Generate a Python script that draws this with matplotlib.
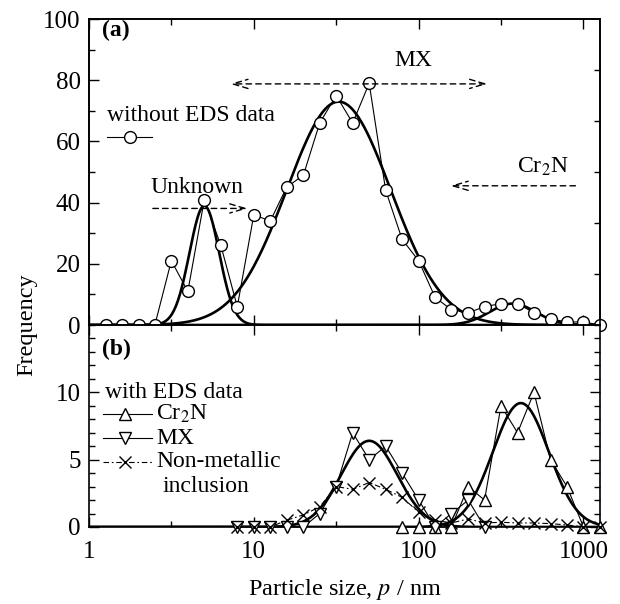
import numpy as np
import matplotlib.pyplot as plt
from matplotlib.ticker import FixedLocator, MultipleLocator, NullFormatter

plt.rcParams['font.family'] = 'Liberation Serif'
plt.rcParams['mathtext.fontset'] = 'stix'

# (a) all particles, without EDS data
size_a = [1.26, 1.58, 2.0, 2.51, 3.16, 3.98, 5.01, 6.31, 7.94, 10, 12.6, 15.8,
          20.0, 25.1, 31.6, 39.8, 50.1, 63.1, 79.4, 100, 126, 158, 200, 251,
          316, 398, 501, 631, 794, 1000, 1259]
count_a = [0, 0, 0, 0, 21, 11, 41, 26, 6, 36, 34, 45,
           49, 66, 75, 66, 79, 44, 28, 21, 9, 5, 4, 6,
           7, 7, 4, 2, 1, 1, 0]

# (b) with EDS data
size_cr2n = [79.4, 100, 126, 158, 200, 251, 316, 398, 501, 631, 794, 1000, 1259]
count_cr2n = [0, 0, 0, 0, 3, 2, 9, 7, 10, 5, 3, 0, 0]

size_mx = [7.94, 10, 12.6, 15.8, 20.0, 25.1, 31.6, 39.8, 50.1, 63.1, 79.4, 100,
           126, 158, 200, 251]
count_mx = [0, 0, 0, 0, 0, 1, 3, 7, 5, 6, 4, 2, 0, 1, 2, 0]

size_nm = [7.94, 10, 12.6, 15.8, 20.0, 25.1, 31.6, 39.8, 50.1, 63.1, 79.4, 100,
           126, 158, 200, 251, 316, 398, 501, 631, 794, 1000, 1259]
count_nm = [0, 0, 0, 0.5, 0.9, 1.5, 3.0, 2.8, 3.3, 2.8, 2.2, 1.1,
            0.5, 0.3, 0.6, 0.3, 0.35, 0.3, 0.3, 0.25, 0.15, 0, 0]

# log-normal fits: (peak, log10 of mode, sigma in log10)
fit_a_unknown = (39, 0.70, 0.09)
fit_a_mx = (73, 1.515, 0.315)
fit_a_cr2n = (7, 2.57, 0.14)
fit_b_mx = (6.4, 1.70, 0.17)
fit_b_cr2n = (9.2, 2.62, 0.17)


def lognorm(p, fit):
    peak, mu, sig = fit
    return peak * np.exp(-0.5 * ((np.log10(p) - mu) / sig) ** 2)


p = np.logspace(0, np.log10(1259), 500)
FS = 17  # text size

fig = plt.figure(figsize=(6.2, 6.04), dpi=100)
ax1 = fig.add_axes([0.1435, 0.4619, 0.8242, 0.5066])
ax2 = fig.add_axes([0.1435, 0.1275, 0.8242, 0.3344], sharex=ax1)

circ = dict(marker='o', ms=8.5, mfc='white', mec='k', mew=1.0)
tri_up = dict(marker='^', ms=9, mfc='white', mec='k', mew=1.0)
tri_dn = dict(marker='v', ms=9, mfc='white', mec='k', mew=1.0)
cross = dict(marker='x', ms=9, mew=1.0)
dashdot = (0, (5, 2.5, 1.5, 2.5))

# ---- panel (a)
for fit in (fit_a_unknown, fit_a_mx, fit_a_cr2n):
    ax1.plot(p, lognorm(p, fit), 'k-', lw=1.9, zorder=2)
ax1.plot(size_a, count_a, 'k-', lw=0.8, clip_on=False, zorder=3, **circ)

arrow_kw = dict(mutation_scale=10, shrinkA=0, shrinkB=0, lw=1.0,
                linestyle=(0, (4, 3)), color='k')
ax1.annotate('', xy=(7.2, 78.8), xytext=(261, 78.8),
             arrowprops=dict(arrowstyle='<->,head_length=1.1,head_width=0.33', **arrow_kw))
ax1.annotate('', xy=(9.15, 38.1), xytext=(2.44, 38.1),
             arrowprops=dict(arrowstyle='->,head_length=1.1,head_width=0.33', **arrow_kw))
ax1.annotate('', xy=(156, 45.5), xytext=(894, 45.5),
             arrowprops=dict(arrowstyle='->,head_length=1.1,head_width=0.33', **arrow_kw))
ax1.text(93, 86.6, 'MX', fontsize=FS, ha='center', va='center')
ax1.text(0.121, 0.448, 'Unknown', fontsize=FS, ha='left', va='center',
         transform=ax1.transAxes)
ax1.text(0.888, 0.516, 'Cr$_2$N', fontsize=FS, ha='center', va='center',
         transform=ax1.transAxes)
ax1.text(0.025, 0.962, '(a)', fontsize=FS, fontweight='bold', ha='left',
         va='center', transform=ax1.transAxes)

# legend key of panel (a)
ax1.text(0.0352, 0.686, 'without EDS data', fontsize=FS, ha='left',
         va='center', transform=ax1.transAxes)
ax1.plot([0.0352, 0.123], [0.614, 0.614], 'k-', lw=0.8,
         transform=ax1.transAxes, clip_on=False)
ax1.plot([0.0802], [0.614], transform=ax1.transAxes, clip_on=False,
         color='k', zorder=4, **circ)

ax1.set_xscale('log')
ax1.set_xlim(1, 1259)
ax1.set_ylim(0, 100)
ax1.yaxis.set_major_locator(MultipleLocator(20))
ax1.yaxis.set_minor_locator(MultipleLocator(10))
ax1.xaxis.set_major_locator(FixedLocator([1, 10, 100, 1000]))
ax1.xaxis.set_minor_locator(FixedLocator([10 ** 0.5, 10 ** 1.5, 10 ** 2.5]))
ax1.xaxis.set_minor_formatter(NullFormatter())
ax1.tick_params(which='both', direction='in', top=True, right=False,
                labelbottom=False, labelsize=18, width=1.0, pad=6)
ax1.tick_params(which='major', length=7)
ax1.tick_params(which='minor', length=4)

ax1r = ax1.twinx()
ax1r.set_ylim(0, 6)
ax1r.set_yticks([1, 2, 3, 4, 5])
ax1r.tick_params(direction='in', length=4, width=1.0, labelright=False)

# ---- panel (b)
ax2.plot(p, lognorm(p, fit_b_mx), 'k-', lw=1.9, zorder=2)
ax2.plot(p, lognorm(p, fit_b_cr2n), 'k-', lw=1.9, zorder=2)
ax2.plot(size_cr2n, count_cr2n, 'k-', lw=0.8, clip_on=False, zorder=3, **tri_up)
ax2.plot(size_mx, count_mx, 'k-', lw=0.8, clip_on=False, zorder=3, **tri_dn)
ax2.plot(size_nm, count_nm, color='k', linestyle=dashdot, lw=0.8,
         clip_on=False, zorder=3, **cross)
ax2.text(0.025, 0.881, '(b)', fontsize=FS, fontweight='bold', ha='left',
         va='center', transform=ax2.transAxes)

# legend key of panel (b)
ax2.text(0.0313, 0.668, 'with EDS data', fontsize=FS, ha='left',
         va='center', transform=ax2.transAxes)
key_rows = [(0.5614, 'Cr$_2$N', '-', tri_up),
            (0.4396, 'MX', '-', tri_dn),
            (0.3218, 'Non-metallic', dashdot, cross)]
for ky, lab, ls, mk in key_rows:
    ax2.plot([0.0284, 0.1243], [ky, ky], color='k', linestyle=ls, lw=0.8,
             transform=ax2.transAxes, clip_on=False)
    ax2.plot([0.0714], [ky], color='k', transform=ax2.transAxes,
             clip_on=False, zorder=4, **mk)
    ax2.text(0.131, ky, lab, fontsize=FS, ha='left', va='center',
             transform=ax2.transAxes)
ax2.text(0.144, 0.198, 'inclusion', fontsize=FS, ha='left', va='center',
         transform=ax2.transAxes)

ax2.set_ylim(0, 15)
ax2.set_yticks([0, 5, 10])
ax2.yaxis.set_minor_locator(MultipleLocator(1))
ax2.tick_params(which='both', direction='in', top=True, right=True,
                labelsize=18, width=1.0, pad=6)
ax2.tick_params(axis='x', pad=10)
ax2.tick_params(which='major', length=7)
ax2.tick_params(which='minor', length=4)
ax2.set_xticklabels(['1', '10', '100', '1000'])
ax2.set_xlabel('Particle size, $p$ / nm', fontsize=17.5, labelpad=10)

for ax in (ax1, ax2, ax1r):
    for s in ax.spines.values():
        s.set_linewidth(1.2)

fig.text(0.044, 0.462, 'Frequency', rotation=90, ha='center', va='center',
         fontsize=17.5)

fig.savefig('out.png', dpi=100)
